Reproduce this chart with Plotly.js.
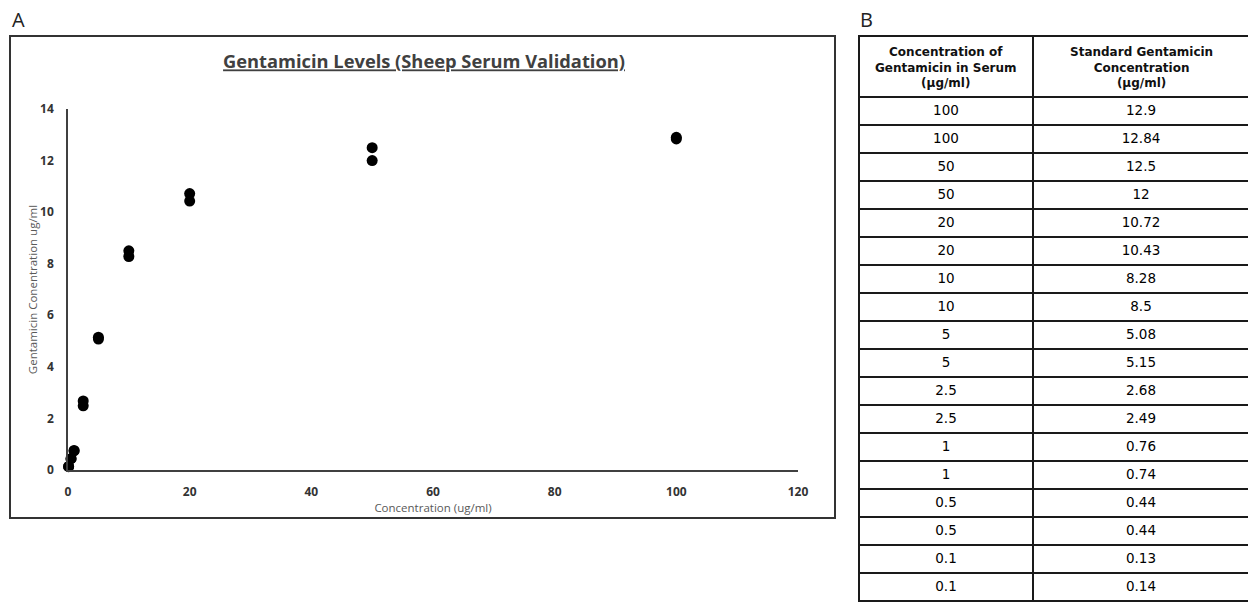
<!DOCTYPE html>
<html>
<head>
<meta charset="utf-8">
<script src="https://cdn.plot.ly/plotly-3.0.1.min.js"></script>
<style>
html,body{margin:0;padding:0;overflow:hidden;background:#fff;}
#chart{width:1252px;height:602px;}
</style>
</head>
<body>
<div id="chart"></div>
<script>
// Data
const serumConc = [100, 100, 50, 50, 20, 20, 10, 10, 5, 5, 2.5, 2.5, 1, 1, 0.5, 0.5, 0.1, 0.1];
const standardConc = [12.9, 12.84, 12.5, 12, 10.72, 10.43, 8.28, 8.5, 5.08, 5.15, 2.68, 2.49, 0.76, 0.74, 0.44, 0.44, 0.13, 0.14];
const xTicks = [0, 20, 40, 60, 80, 100, 120];
const yTicks = [0, 2, 4, 6, 8, 10, 12, 14];
const headerLabels = ['<b>Concentration of<br>Gentamicin in Serum<br>(µg/ml)</b>', '<b>Standard Gentamicin<br>Concentration<br>(µg/ml)</b>'];
const chartTitle = '<u>Gentamicin Levels (Sheep Serum Validation)</u>';
const xTitle = 'Concentration (ug/ml)';
const yTitle = 'Gentamicin Conentration ug/ml';

const W = 1252, H = 602;
const px = v => v / W;
const py = v => 1 - v / H;

// table geometry
const tableLeft = 859, tableRight = 1249, tableTop = 36, headerH = 61;
const colW = [174, 216];

const scatter = {
  type: 'scatter',
  mode: 'markers',
  x: serumConc,
  y: standardConc,
  marker: {color: '#000000', size: 11},
  cliponaxis: false,
  hoverinfo: 'x+y',
  showlegend: false
};

const table = {
  type: 'table',
  domain: {x: [px(tableLeft), px(tableRight)], y: [0, py(tableTop)]},
  columnwidth: colW,
  header: {
    values: ['', ''],
    align: 'center',
    height: headerH,
    line: {color: '#1a1a1a', width: 2},
    fill: {color: '#ffffff'},
    font: {family: 'DejaVu Sans', size: 12, color: '#000000'}
  },
  cells: {
    values: [serumConc.map(String), standardConc.map(String)],
    align: 'center',
    height: 28,
    line: {color: '#1a1a1a', width: 2},
    fill: {color: '#ffffff'},
    font: {family: 'DejaVu Sans', size: 13.5, color: '#000000'}
  }
};

// header labels as centred annotations over the header cells
const totalW = colW[0] + colW[1];
const span = tableRight - tableLeft;
let acc = 0;
const headerAnns = headerLabels.map((t, i) => {
  const cx = tableLeft + span * (acc + colW[i] / 2) / totalW;
  acc += colW[i];
  return {
    text: t, xref: 'paper', yref: 'paper', x: px(cx), y: py(tableTop + headerH / 2 + 0.5),
    xanchor: 'center', yanchor: 'middle', align: 'center', showarrow: false,
    font: {family: 'DejaVu Sans', size: 12, color: '#111111'}
  };
});

const layout = {
  width: W,
  height: H,
  margin: {l: 0, r: 0, t: 0, b: 0},
  paper_bgcolor: '#ffffff',
  plot_bgcolor: '#ffffff',
  showlegend: false,
  title: {
    text: chartTitle,
    x: px(424), xref: 'paper', xanchor: 'center',
    y: py(62), yref: 'paper', yanchor: 'middle',
    font: {family: 'Open Sans', size: 18.3, color: '#404040', weight: 'bold'}
  },
  xaxis: {
    domain: [px(68), px(798)],
    range: [0, 120],
    tickvals: xTicks,
    ticktext: xTicks.map(String),
    showgrid: false,
    zeroline: false,
    showline: true,
    linecolor: '#404040',
    linewidth: 1.5,
    ticks: '',
    ticklabelstandoff: 10,
    tickfont: {family: 'Open Sans', size: 12, color: '#333333', weight: 'bold'},
    fixedrange: true,
    title: {text: xTitle, font: {family: 'Open Sans', size: 11.5, color: '#595959'}, standoff: 3}
  },
  yaxis: {
    domain: [1 - 470 / H, 1 - 109 / H],
    range: [0, 14],
    tickvals: yTicks,
    ticktext: yTicks.map(String),
    showgrid: false,
    zeroline: false,
    showline: true,
    linecolor: '#404040',
    linewidth: 1.5,
    ticks: '',
    ticklabelstandoff: 10,
    tickfont: {family: 'Open Sans', size: 12, color: '#333333', weight: 'bold'},
    fixedrange: true,
    title: {text: yTitle, font: {family: 'Open Sans', size: 11.5, color: '#595959'}, standoff: 0}
  },
  shapes: [{
    type: 'rect', xref: 'paper', yref: 'paper',
    x0: px(10), x1: px(835), y0: py(518), y1: py(36),
    line: {color: '#333333', width: 2}, fillcolor: 'rgba(0,0,0,0)'
  }],
  annotations: [
    {text: 'A', xref: 'paper', yref: 'paper', x: px(10), y: py(19), xanchor: 'left', yanchor: 'middle',
     showarrow: false, font: {family: 'Open Sans', size: 20, color: '#222222'}},
    {text: 'B', xref: 'paper', yref: 'paper', x: px(858), y: py(20), xanchor: 'left', yanchor: 'middle',
     showarrow: false, font: {family: 'Open Sans', size: 20, color: '#222222'}}
  ].concat(headerAnns)
};

Plotly.newPlot('chart', [scatter, table], layout, {displayModeBar: false});
</script>
</body>
</html>
